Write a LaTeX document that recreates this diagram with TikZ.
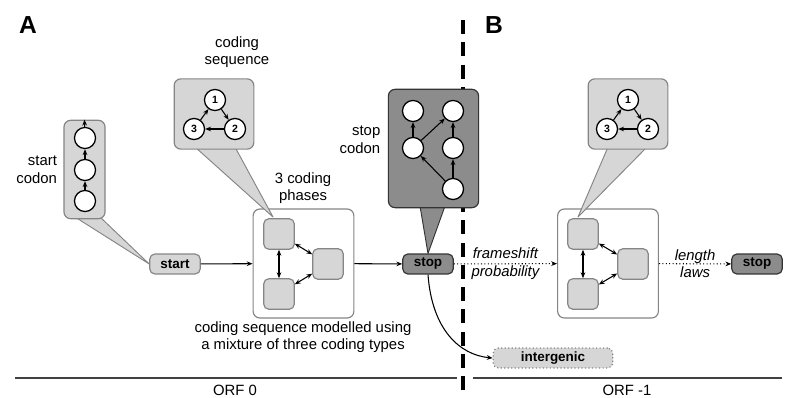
\documentclass[tikz,border=0pt]{standalone}
\usepackage{fontspec}
\setmainfont{Liberation Sans}
\usetikzlibrary{positioning}
\usetikzlibrary{calc}
\usetikzlibrary{arrows.meta}
\definecolor{lightfill}{HTML}{D6D6D6}
\definecolor{darkfill}{HTML}{8C8C8C}
\definecolor{frame}{HTML}{858585}
\tikzset{
  box/.style        = { rectangle, rounded corners=2mm, line width=1pt },
  label/.style      = { font=\fontsize{12.7}{15}\selectfont, align=center },
  tag/.style        = { box, rounded corners=1.5mm, minimum width=43pt, minimum height=17pt,
                        font=\fontsize{11.5}{13}\selectfont\bfseries, inner sep=0pt },
}
\tikzset{
  light/.style      = { tag, fill=lightfill, draw=frame },
  dark/.style       = { tag, fill=darkfill, draw=black!80 },
  dotbox/.style     = { tag, fill=lightfill, draw=frame, dotted, minimum width=102pt },
  callout/.style    = { box, fill=lightfill, draw=frame },
  darkcallout/.style= { box, fill=darkfill, draw=black!80 },
  tail/.style       = { fill=lightfill, draw=frame, line width=0.8pt, line join=round },
  darktail/.style   = { fill=darkfill, draw=black!80, line width=0.8pt, line join=round },
  phasebox/.style   = { box, fill=white, draw=frame, minimum width=86pt, minimum height=93pt },
  phase/.style      = { box, rounded corners=1.5mm, fill=lightfill, draw=frame,
                        minimum size=26pt, inner sep=0pt },
  state/.style      = { circle, draw=black, fill=white, line width=1.1pt, minimum size=18pt,
                        inner sep=0pt, font=\fontsize{9}{9}\selectfont\bfseries },
  link/.style       = { -{Stealth[length=5pt,width=4pt]}, line width=0.9pt },
  both/.style       = { {Stealth[length=5pt,width=4pt]}-{Stealth[length=5pt,width=4pt]}, line width=0.9pt },
}

\begin{document}
\begin{tikzpicture}[x=0.03cm,y=-0.03cm]
  \useasboundingbox (0,0) rectangle (787,398);

  % split between A and B
  \draw [line width=3.4pt, dash pattern=on 12pt off 7pt] (463,20) -- (463,398);

  \node [font=\fontsize{21}{21}\selectfont\bfseries] (A) at (28,25) {A};
  \node [font=\fontsize{21}{21}\selectfont\bfseries] (B) at (494,25) {B};

  % ORF 0
  \node (start) [light] at (175,264) {start};
  \node (stop)  [dark]  at (428,264) {stop};
  \node (inter) [dotbox] at (553,358) {intergenic};

  \node (phases) [phasebox] at (303.5,263.5) {};
  \node (p1) [phase] at (279,234) {};
  \node (p2) [phase] at (328,264) {};
  \node (p3) [phase] at (279,294) {};
  \draw [both] (p1) -- (p3);
  \draw [both] (p1) -- (p2);
  \draw [both] (p3) -- (p2);

  \node [label] (phtext) at (303,188) {3 coding\\phases};
  \node [label] (mixtext) at (303,337) {coding sequence modelled using\\a mixture of three coding types};

  \draw [link] (start) -- (phases);
  \draw [link] (phases) -- (stop);

  % start codon callout
  \draw [tail] (75,217) -- (start.west) -- (100,217) -- cycle;
  \node (startbox) [callout, minimum width=35pt, minimum height=84pt] at (84.5,169.5) {};
  \node (s1) [state] at (85,138) {};
  \node (s2) [state] at (85,170) {};
  \node (s3) [state] at (85,201) {};
  \draw [link] (s3) -- (s2);
  \draw [link] (s2) -- (s1);
  \draw [link] (s1) -- (startbox.north);
  \node [label, left=2pt of startbox, align=right] (sttext) {start\\codon};

  % coding sequence callout
  \draw [tail] (195,147) -- (273,217) -- (235,147) -- cycle;
  \node (codebox) [callout, minimum width=68pt, minimum height=60pt] at (214,114) {};
  \node (c1) [state] at (215,100) {1};
  \node (c2) [state] at (235,129) {2};
  \node (c3) [state] at (194,129) {3};
  \draw [link] (c1) -- (c2);
  \draw [link] (c2) -- (c3);
  \draw [link] (c3) -- (c1);
  \node [label] (cdtext) at (237,52) {coding\\sequence};

  % stop codon callout
  \draw [darktail] (420,206) -- (stop.north) -- (445,206) -- cycle;
  \node (stopbox) [darkcallout, minimum width=77pt, minimum height=101pt] at (433.5,148.5) {};
  \node (t1) [state] at (413,111) {};
  \node (t2) [state] at (453,111) {};
  \node (t3) [state] at (413,148) {};
  \node (t4) [state] at (453,148) {};
  \node (t5) [state] at (453,189) {};
  \draw [link] (t3) -- (t1);
  \draw [link] (t3) -- (t2);
  \draw [link] (t4) -- (t2);
  \draw [link] (t5) -- (t4);
  \draw [link] (t5) -- (t3);
  \node [label, align=right] (sptext) at (360,140) {stop\\codon};

  \draw [link] (stop.south) .. controls (432,330) and (460,355) .. (inter.west);

  % ORF -1
  \node (phasesB) [phasebox] at (608,263.5) {};
  \node (q1) [phase] at (583,234) {};
  \node (q2) [phase] at (633,264) {};
  \node (q3) [phase] at (583,294) {};
  \draw [both] (q1) -- (q3);
  \draw [both] (q1) -- (q2);
  \draw [both] (q3) -- (q2);

  \node (stopB) [dark] at (757,264) {stop};

  \draw [link, dotted] (stop) -- (phasesB)
    node [midway, label, font=\fontsize{12.7}{15}\selectfont\itshape] {frameshift\\probability};
  \draw [link, dotted] (phasesB) -- (stopB)
    node [midway, label, font=\fontsize{12.7}{15}\selectfont\itshape] {length\\laws};

  \draw [tail] (608,147) -- (578,217) -- (647,147) -- cycle;
  \node (codeboxB) [callout, minimum width=68pt, minimum height=60pt] at (628,114) {};
  \node (d1) [state] at (628,100) {1};
  \node (d2) [state] at (648,129) {2};
  \node (d3) [state] at (607,129) {3};
  \draw [link] (d1) -- (d2);
  \draw [link] (d2) -- (d3);
  \draw [link] (d3) -- (d1);

  % frames
  \coordinate (a0) at (15,378);
  \coordinate (a1) at (457,378);
  \coordinate (b0) at (473,378);
  \coordinate (b1) at (782,378);
  \draw [line width=1.2pt, black!75] (a0) -- (a1);
  \draw [line width=1.2pt, black!75] (b0) -- (b1);
  \node [label] (orf0) at (235,390) {ORF 0};
  \node [label] (orf1) at (627,390) {ORF -1};

\end{tikzpicture}
\end{document}
